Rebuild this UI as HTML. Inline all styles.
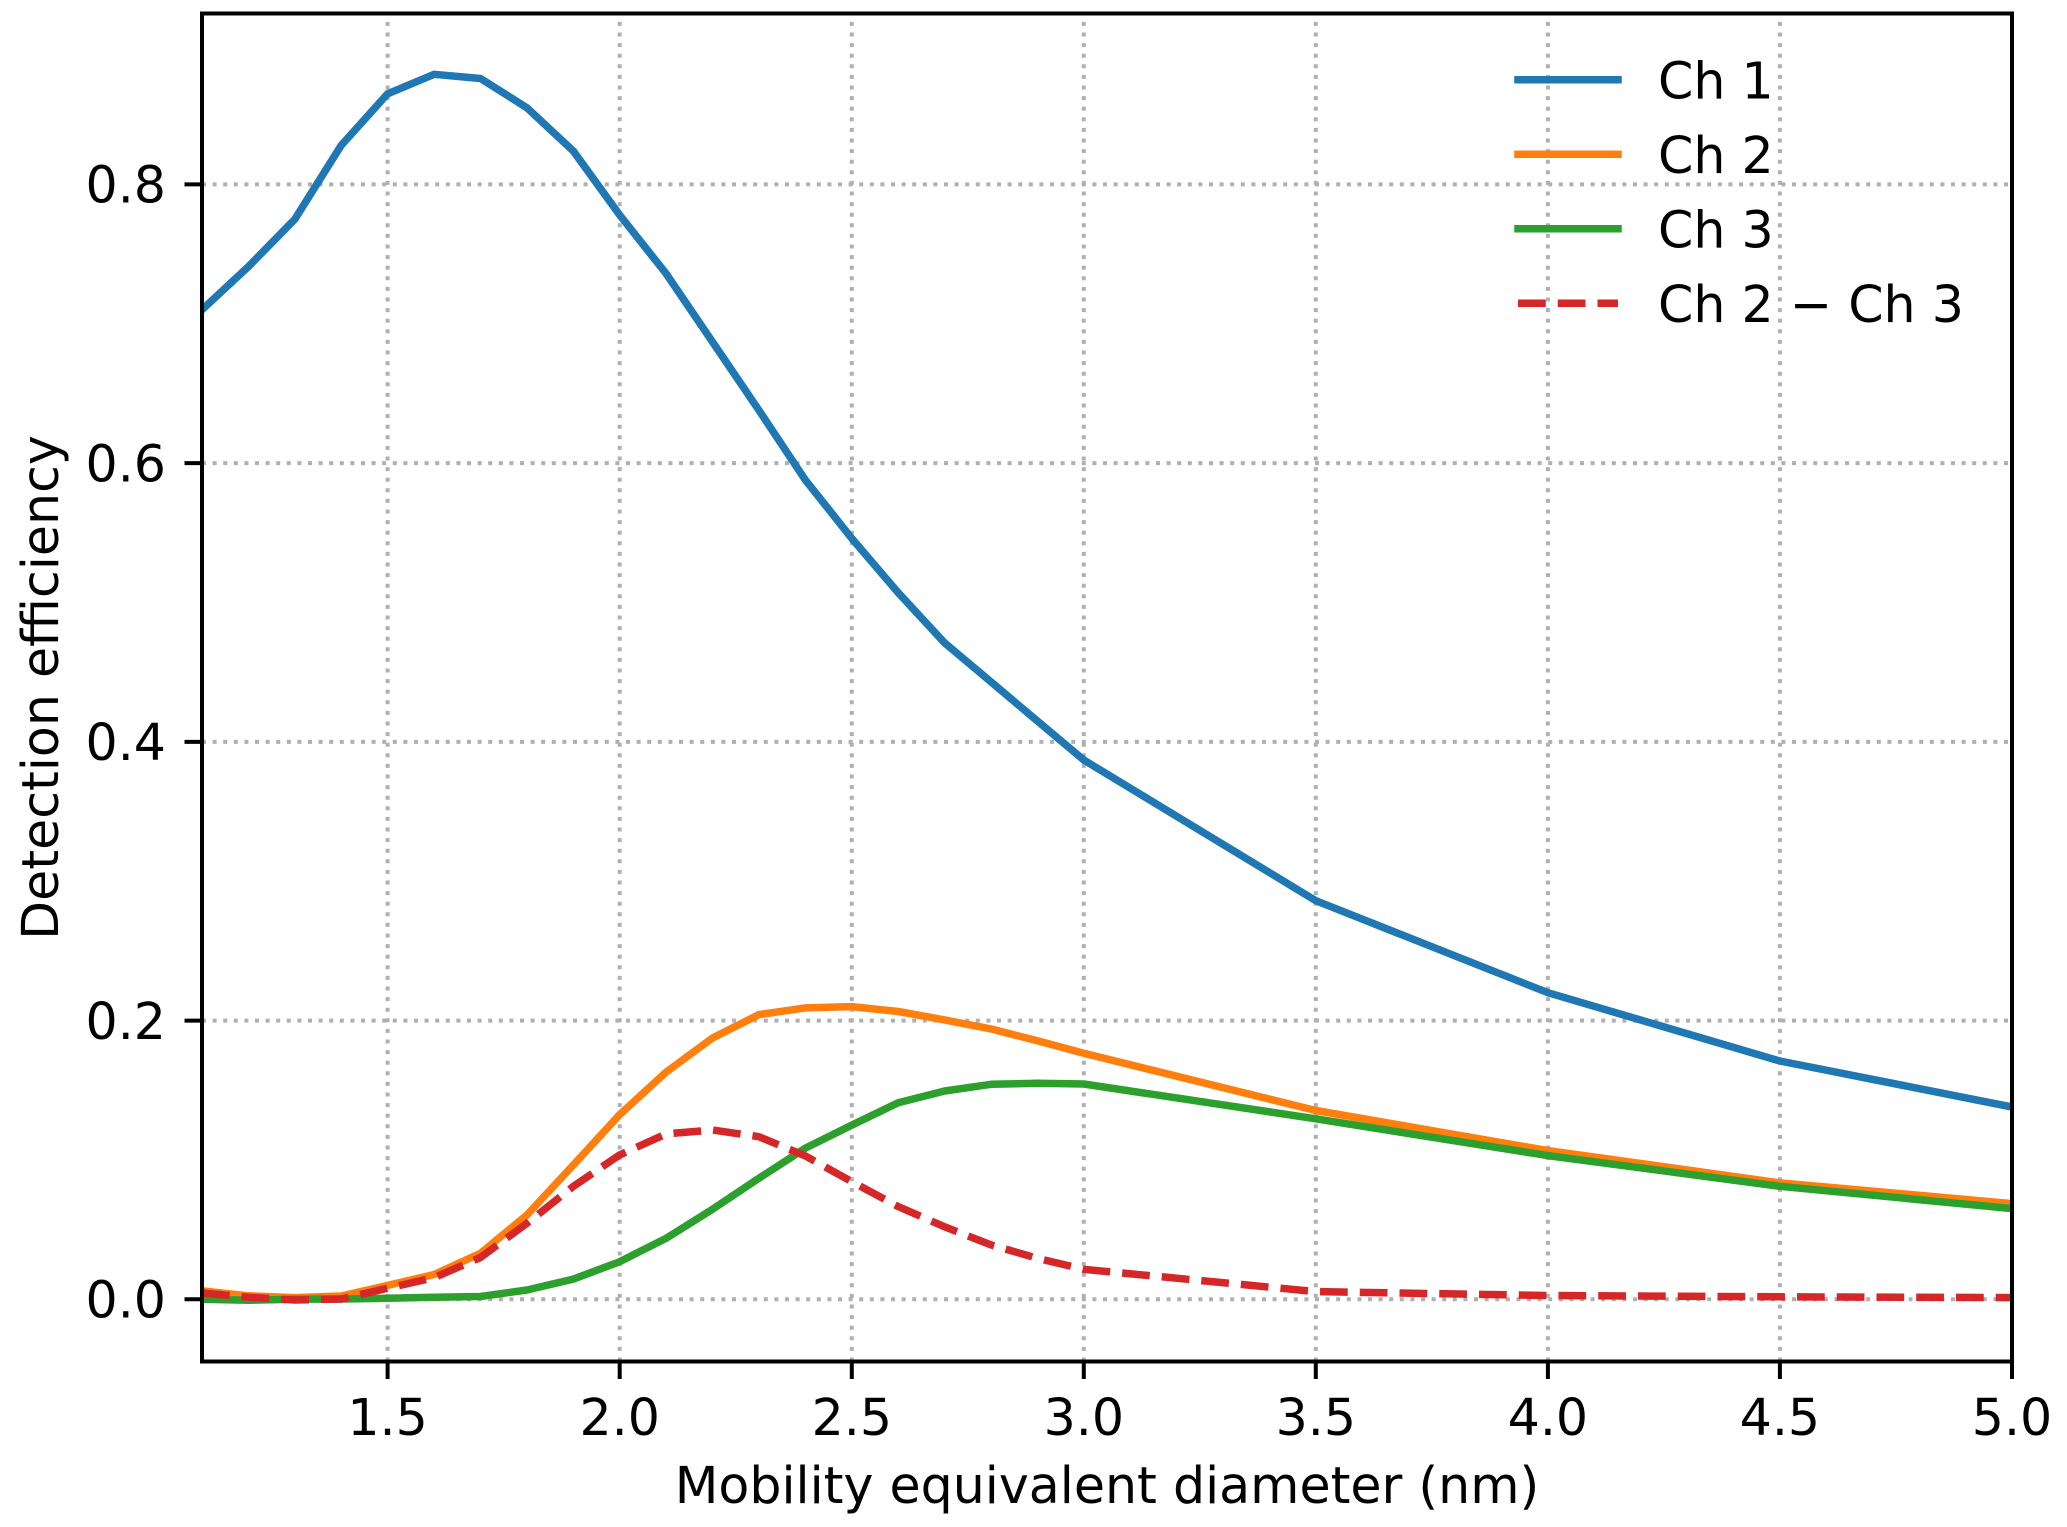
<!DOCTYPE html>
<html>
<head>
<meta charset="utf-8">
<style>
html,body{margin:0;padding:0;background:#fff;}
svg{display:block;}
text{font-family:"DejaVu Sans","Liberation Sans",sans-serif;font-size:50.6px;fill:#000;}
</style>
</head>
<body>
<svg width="2067" height="1527" viewBox="0 0 2067 1527" xmlns="http://www.w3.org/2000/svg">
<defs>
<clipPath id="ax"><rect x="202" y="13.5" width="1810" height="1348"/></clipPath>
</defs>
<rect x="0" y="0" width="2067" height="1527" fill="#fff"/>

<!-- grid -->
<g stroke="#b0b0b0" stroke-width="4" stroke-dasharray="4 6.6" fill="none">
<path d="M387.6 1361.5V13.5"/>
<path d="M619.7 1361.5V13.5"/>
<path d="M851.8 1361.5V13.5"/>
<path d="M1083.8 1361.5V13.5"/>
<path d="M1315.8 1361.5V13.5"/>
<path d="M1547.9 1361.5V13.5"/>
<path d="M1779.9 1361.5V13.5"/>
<path d="M202 1299.3H2012"/>
<path d="M202 1020.6H2012"/>
<path d="M202 741.9H2012"/>
<path d="M202 463.1H2012"/>
<path d="M202 184.4H2012"/>
</g>

<!-- series -->
<g clip-path="url(#ax)" fill="none" stroke-width="7.5" stroke-linejoin="round">
<polyline stroke="#1f77b4" stroke-linecap="square" points="202.0,309.8 248.4,266.6 294.8,219.3 341.2,145.4 387.6,93.8 434.1,74.3 480.5,78.5 526.9,107.8 573.3,151.0 619.7,215.1 666.1,273.6 712.5,341.9 758.9,410.2 805.3,479.9 851.8,538.4 898.2,592.7 944.6,642.9 991.0,681.9 1037.4,721.0 1083.8,760.0 1315.8,900.7 1547.9,992.7 1779.9,1061.0 2012.0,1107.0"/>
<polyline stroke="#ff7f0e" stroke-linecap="square" points="202.0,1290.9 248.4,1295.8 294.8,1297.6 341.2,1296.0 387.6,1285.4 434.1,1274.5 480.5,1253.3 526.9,1215.0 573.3,1165.0 619.7,1114.6 666.1,1072.1 712.5,1038.0 758.9,1014.6 805.3,1007.9 851.8,1006.6 898.2,1011.5 944.6,1019.9 991.0,1028.9 1037.4,1040.8 1083.8,1053.3 1315.8,1110.5 1547.9,1150.6 1779.9,1182.9 2012.0,1203.6"/>
<polyline stroke="#2ca02c" stroke-linecap="square" points="202.0,1299.3 248.4,1300.3 294.8,1299.3 341.2,1299.0 387.6,1298.3 434.1,1297.3 480.5,1296.5 526.9,1290.0 573.3,1279.1 619.7,1261.7 666.1,1238.3 712.5,1209.3 758.9,1178.3 805.3,1148.2 851.8,1125.1 898.2,1102.7 944.6,1091.0 991.0,1084.3 1037.4,1083.3 1083.8,1084.0 1315.8,1118.8 1547.9,1155.6 1779.9,1186.3 2012.0,1208.6"/>
<polyline stroke="#d62728" stroke-linecap="butt" stroke-dasharray="27.75 12" points="202.0,1293.0 248.4,1297.2 294.8,1300.0 341.2,1299.0 387.6,1288.2 434.1,1277.7 480.5,1257.5 526.9,1223.3 573.3,1186.4 619.7,1154.9 666.1,1133.9 712.5,1130.0 758.9,1136.7 805.3,1155.9 851.8,1181.7 898.2,1206.6 944.6,1226.8 991.0,1244.9 1037.4,1258.3 1083.8,1269.3 1315.8,1291.6 1547.9,1295.5 1779.9,1296.8 2012.0,1297.6"/>
</g>

<!-- spines -->
<rect x="202" y="13.5" width="1810" height="1348" fill="none" stroke="#000" stroke-width="4" stroke-linejoin="miter"/>

<!-- ticks -->
<g stroke="#000" stroke-width="4">
<path d="M387.6 1361.5v17.5"/>
<path d="M619.7 1361.5v17.5"/>
<path d="M851.8 1361.5v17.5"/>
<path d="M1083.8 1361.5v17.5"/>
<path d="M1315.8 1361.5v17.5"/>
<path d="M1547.9 1361.5v17.5"/>
<path d="M1779.9 1361.5v17.5"/>
<path d="M2012 1361.5v17.5"/>
<path d="M202 1299.3h-17.5"/>
<path d="M202 1020.6h-17.5"/>
<path d="M202 741.9h-17.5"/>
<path d="M202 463.1h-17.5"/>
<path d="M202 184.4h-17.5"/>
</g>

<!-- x tick labels -->
<g text-anchor="middle">
<text x="387.6" y="1435">1.5</text>
<text x="619.7" y="1435">2.0</text>
<text x="851.8" y="1435">2.5</text>
<text x="1083.8" y="1435">3.0</text>
<text x="1315.8" y="1435">3.5</text>
<text x="1547.9" y="1435">4.0</text>
<text x="1779.9" y="1435">4.5</text>
<text x="2012" y="1435">5.0</text>
</g>

<!-- y tick labels -->
<g text-anchor="end">
<text x="166" y="1317.6">0.0</text>
<text x="166" y="1038.9">0.2</text>
<text x="166" y="760.2">0.4</text>
<text x="166" y="481.4">0.6</text>
<text x="166" y="202.7">0.8</text>
</g>

<!-- axis labels -->
<text x="1107" y="1503" text-anchor="middle">Mobility equivalent diameter (nm)</text>
<text transform="translate(58,687.5) rotate(-90)" text-anchor="middle">Detection efficiency</text>

<!-- legend -->
<g fill="none" stroke-width="7.5">
<path d="M1518 79.7H1618" stroke="#1f77b4" stroke-linecap="square"/>
<path d="M1518 154.2H1618" stroke="#ff7f0e" stroke-linecap="square"/>
<path d="M1518 228.7H1618" stroke="#2ca02c" stroke-linecap="square"/>
<path d="M1518 303.2H1618" stroke="#d62728" stroke-linecap="butt" stroke-dasharray="27.75 12"/>
</g>
<g>
<text x="1658" y="98.3">Ch 1</text>
<text x="1658" y="172.8">Ch 2</text>
<text x="1658" y="247.3">Ch 3</text>
<text x="1658" y="321.8">Ch 2 − Ch 3</text>
</g>
</svg>
</body>
</html>
